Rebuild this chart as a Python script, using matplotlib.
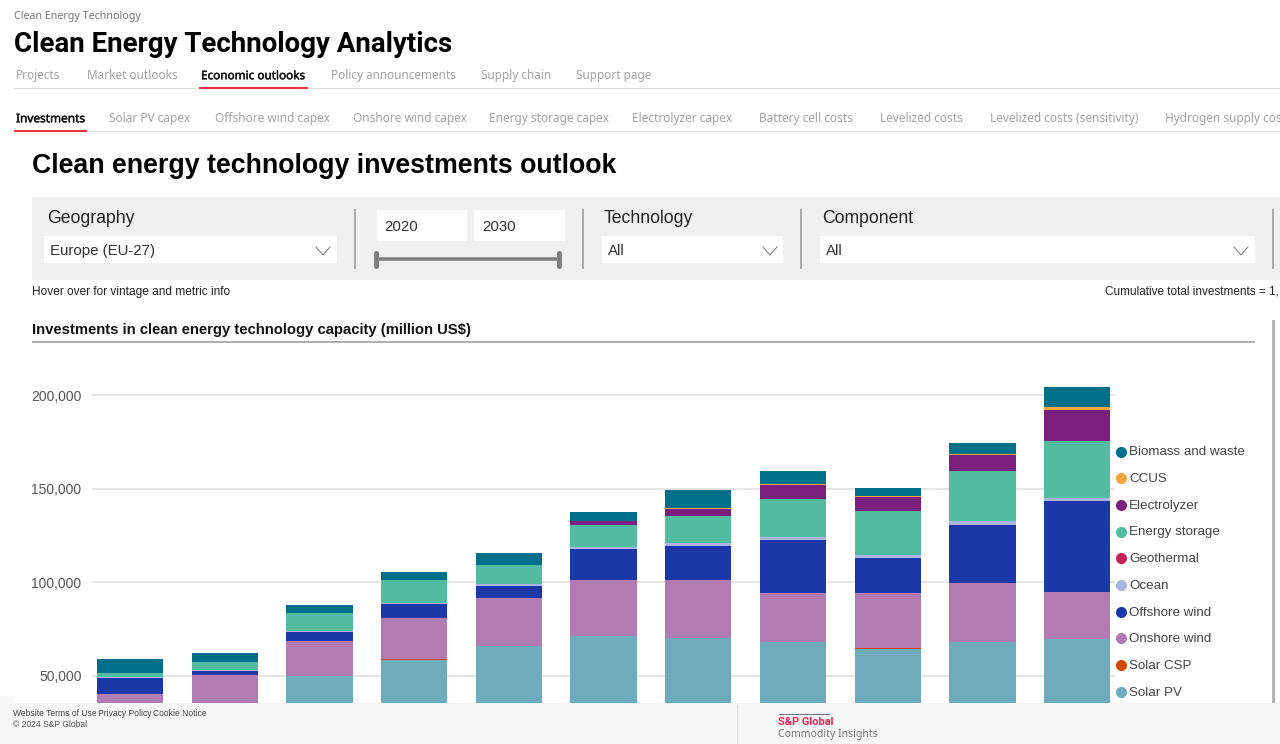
import numpy as np
import matplotlib
matplotlib.use("Agg")
import matplotlib.pyplot as plt
import matplotlib.patheffects as pe
from matplotlib.patches import Rectangle

# === Daten (million US$) ===
years = [2020, 2021, 2022, 2023, 2024, 2025, 2026, 2027, 2028, 2029, 2030]
solar_pv = [25000, 30000, 49900, 58500, 65900, 71300, 70100, 67800, 64000, 67800, 69400]
solar_csp = [0, 0, 0, 500, 0, 0, 0, 0, 700, 0, 0]
onshore = [15100, 20400, 18600, 21800, 25700, 29800, 31200, 26200, 29300, 31600, 25500]
offshore = [8700, 2100, 5000, 7500, 6400, 16700, 17900, 28700, 19000, 31200, 48400]
ocean = [500, 500, 500, 500, 700, 700, 1800, 1600, 1400, 1800, 1900]
geothermal = [0, 0, 0, 0, 0, 0, 0, 0, 0, 0, 0]
storage = [2100, 4100, 9500, 12100, 10300, 11800, 14400, 20000, 23500, 27000, 30200]
electrolyzer = [0, 0, 0, 0, 0, 2500, 3900, 7500, 7500, 8300, 16700]
ccus = [0, 0, 0, 0, 0, 0, 400, 500, 700, 900, 1600]
biomass = [7300, 5200, 4300, 4300, 6800, 4700, 9600, 7000, 4300, 6000, 10500]

series_names = ["Solar PV", "Solar CSP", "Onshore wind", "Offshore wind", "Ocean",
                "Geothermal", "Energy storage", "Electrolyzer", "CCUS", "Biomass and waste"]
series_values = [solar_pv, solar_csp, onshore, offshore, ocean,
                 geothermal, storage, electrolyzer, ccus, biomass]
series_colors = ["#6dabbd", "#d04a02", "#b07cb2", "#1c38a8", "#a9b4e0",
                 "#c6215a", "#53bb9f", "#7a1f7d", "#f2a63f", "#006f8a"]
y_ticks = [50000, 100000, 150000, 200000]

main_tabs = ["Projects", "Market outlooks", "Economic outlooks",
             "Policy announcements", "Supply chain", "Support page"]
main_tab_x = [16, 87, 201, 331, 481, 576]
sub_tabs = ["Investments", "Solar PV capex", "Offshore wind capex", "Onshore wind capex",
            "Energy storage capex", "Electrolyzer capex", "Battery cell costs", "Levelized costs",
            "Levelized costs (sensitivity)", "Hydrogen supply cos"]
sub_tab_x = [16, 109, 215, 353, 489, 632, 759, 880, 990, 1165]

W, H = 1280, 744
fig = plt.figure(figsize=(W / 100, H / 100), dpi=100, facecolor="white")

# === Diagramm ===
ax = fig.add_axes([92 / W, 1 - 703 / H, (1115 - 92) / W, (703 - 345) / H])
x = np.arange(len(years))
bottom = np.zeros(len(years))
for values, color in zip(series_values, series_colors):
    ax.bar(x, values, bottom=bottom, width=0.70, color=color, zorder=3)
    bottom += np.array(values)

ax.set_xlim(-0.401, 10.40)
ax.set_ylim(35300, 226800)
ax.set_yticks(y_ticks)
ax.set_yticklabels([f"{v:,}" for v in y_ticks], family="Liberation Sans", fontsize=10.0, color="#555555")
ax.tick_params(axis="y", length=0, pad=7.5)
ax.set_xticks([])
ax.grid(axis="y", color="#e0e0e0", linewidth=1.2, zorder=0)
for s in ax.spines.values():
    s.set_visible(False)

# === Seitenrahmen in Pixelkoordinaten ===
page = fig.add_axes([0, 0, 1, 1], facecolor="none")
page.set_xlim(0, W)
page.set_ylim(H, 0)
page.axis("off")


def box(x0, y0, x1, y1, color):
    page.add_patch(Rectangle((x0, y0), x1 - x0, y1 - y0, facecolor=color, edgecolor="none"))


def label(px, py, text, size, color="#222222", family="Liberation Sans", weight="normal", ha="left", heavy=0):
    # py ist die optische Mitte der Kleinbuchstaben, Grundlinie leicht darunter
    t = page.text(px, py + size * 0.36, text, fontsize=size * 0.72, color=color, family=family,
                  weight=weight, ha=ha, va="baseline")
    if heavy:
        t.set_path_effects([pe.withStroke(linewidth=heavy, foreground=color)])


def chevron(cx, cy):
    page.plot([cx - 7, cx, cx + 7], [cy - 4, cy + 4, cy - 4], color="#777777", lw=0.7)


# Kopfzeile und Reiter
label(14, 15, "Clean Energy Technology", 10.7, color="#777777", family="Noto Sans")
label(14, 42, "Clean Energy Technology Analytics", 27.6, color="#000000", family="Roboto", weight="bold")
for name, tx in zip(main_tabs, main_tab_x):
    active = name == "Economic outlooks"
    label(tx, 75, name, 11.75, color="#111111" if active else "#a3a3a3", family="Noto Sans",
          heavy=0.3 if active else 0)
box(14, 88, W, 89, "#dddddd")
box(199, 86.5, 308, 89, "#e8323c")
for name, tx in zip(sub_tabs, sub_tab_x):
    active = name == "Investments"
    label(tx, 118, name, 11.85, color="#111111" if active else "#a3a3a3", family="Noto Sans",
          heavy=0.3 if active else 0)
box(14, 131, W, 132, "#dddddd")
box(14, 129.5, 87, 132, "#e8323c")

label(32, 163, "Clean energy technology investments outlook", 26.8, color="#000000", weight="bold")

# Filterleiste
box(32, 197, W, 280, "#f0f0f0")
for dx in [355, 583, 801, 1273]:
    box(dx - 1, 209, dx + 1, 269, "#ababab")
box(44, 236, 337, 263, "white")
box(377, 210, 467, 241, "white")
box(474, 210, 565, 241, "white")
box(602, 236, 783, 263, "white")
box(820, 236, 1255, 263, "white")
label(47, 217, "Geography", 17.6)
label(50, 250, "Europe (EU-27)", 15, color="#333333")
label(384, 226, "2020", 15, color="#333333")
label(482, 226, "2030", 15, color="#333333")
label(604, 217, "Technology", 17.6)
label(608, 250, "All", 15, color="#333333")
label(822, 217, "Component", 17.6)
label(826, 250, "All", 15, color="#333333")
chevron(323, 251)
chevron(770, 251)
chevron(1241, 251)
page.plot([376, 559], [259, 259], color="#808080", lw=2.6, solid_capstyle="butt")
page.plot([376, 376], [253, 266], color="#808080", lw=3.6, solid_capstyle="round")
page.plot([559, 559], [253, 266], color="#808080", lw=3.6, solid_capstyle="round")

label(32, 290.5, "Hover over for vintage and metric info", 11.85, color="#222222")
label(1105, 290.5, "Cumulative total investments = 1,", 11.8, color="#222222")
label(32, 329, "Investments in clean energy technology capacity (million US$)", 14.9, color="#111111", weight="bold")
box(32, 341, 1255, 343, "#b0b0b0")
box(1272, 320, 1275, 703, "#b5b5b5")

# Legende: alphabetisch von oben nach unten wie im Original
order = sorted(range(len(series_names)), key=lambda i: series_names[i].lower())
for row, i in enumerate(order):
    ly = 451.5 + row * 26.7
    page.plot([1121], [ly], marker="o", ms=8, color=series_colors[i], mew=0, ls="none")
    label(1129, ly - 1, series_names[i], 13.4, color="#444444")

# Fußzeile
box(0, 703, W, 744, "#f7f7f7")
box(0, 696, 14, 703, "#f7f7f7")
box(737, 705, 738, 744, "#dddddd")
label(13, 713, "Website Terms of Use", 8.55, color="#444444")
label(98, 713, "Privacy Policy", 8.55, color="#444444")
label(153, 713, "Cookie Notice", 8.55, color="#444444")
for ux0, ux1 in [(13, 96), (98, 150), (153, 206)]:
    box(ux0, 717.5, ux1, 718.2, "#555555")
label(13, 724, "© 2024 S&P Global", 8.55, color="#555555")
box(779, 714, 830, 715.2, "#777777")
label(778, 721.5, "S&P Global", 11, color="#e8274f", family="Roboto", weight="bold")
label(778, 733, "Commodity Insights", 10.5, color="#777777", family="Noto Sans")

fig.savefig("out.png", dpi=100)
